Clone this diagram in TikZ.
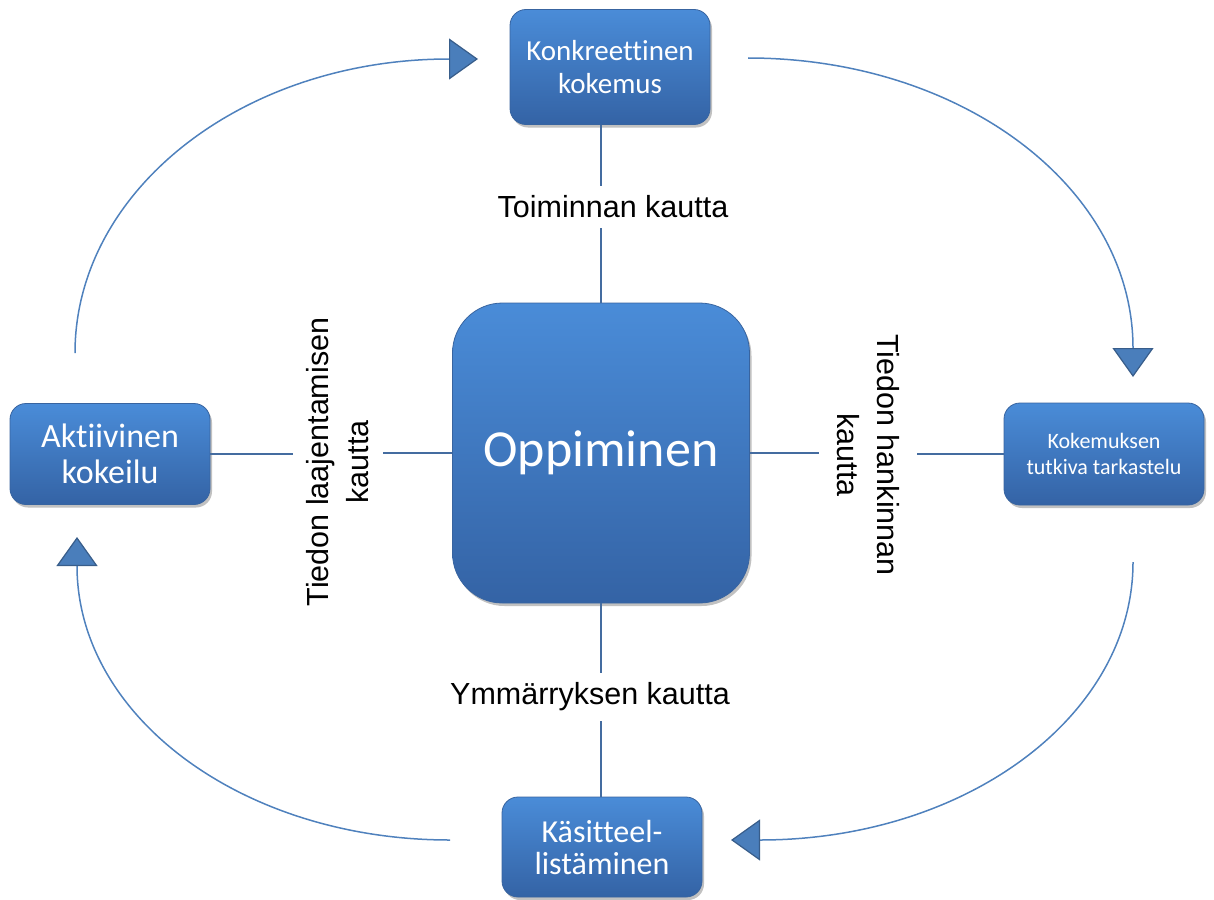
\documentclass[tikz,border=0pt]{standalone}
\usepackage{fontspec}
\setmainfont{Liberation Sans}
\newfontfamily\boxfont[Ligatures={NoCommon}]{Carlito}
\usetikzlibrary{arrows.meta,shadows}
\definecolor{boxtop}{RGB}{74,140,216}
\definecolor{boxbot}{RGB}{52,99,165}
\definecolor{boxedge}{RGB}{56,100,160}
\definecolor{linec}{RGB}{68,108,160}
\definecolor{arrowline}{RGB}{79,129,189}
\definecolor{arrowfill}{RGB}{74,126,187}
\definecolor{arrowedge}{RGB}{56,93,138}
\begin{document}
\begin{tikzpicture}[x=1pt,y=-1pt,
  box/.style={draw=boxedge, line width=0.8pt, top color=boxtop, bottom color=boxbot,
    rounded corners=16pt, text=white, align=center, inner sep=0pt,
    drop shadow={shadow xshift=2pt,shadow yshift=-3pt,opacity=0.35,fill=black!70}},
  lbl/.style={align=center, inner sep=10pt, text=black, font=\fontsize{30.5}{40}\selectfont},
  conn/.style={draw=linec, line width=2.5pt},
  cyc/.style={draw=arrowline, line width=1.5pt,
    -{Triangle[width=41pt,length=29pt,fill=arrowfill,color=arrowedge,line width=1.2pt]}}
]
\useasboundingbox (0,0) rectangle (1214,899);

% boxes
\node[box, minimum width=200pt, minimum height=115pt,
      font=\boxfont\fontsize{29}{33}\selectfont] (top) at (610,67) {Konkreettinen\\kokemus};
\node[box, minimum width=297pt, minimum height=300pt, rounded corners=50pt,
      font=\boxfont\fontsize{52}{60}\selectfont] (center) at (601,453) {Oppiminen};
\node[box, minimum width=200pt, minimum height=102pt,
      font=\boxfont\fontsize{22}{26}\selectfont] (right) at (1104,454) {Kokemuksen\\tutkiva tarkastelu};
\node[box, minimum width=200pt, minimum height=101pt,
      font=\boxfont\fontsize{34}{36}\selectfont] (left) at (110,454) {Aktiivinen\\kokeilu};
\node[box, minimum width=200pt, minimum height=100pt,
      font=\boxfont\fontsize{32}{32}\selectfont] (bottom) at (602,847) {Käsitteel-\\listäminen};

% labels
\node[lbl] (lblT) at (613,207) {Toiminnan kautta};
\node[lbl] (lblB) at (590,697) {Ymmärryksen kautta};
\node[lbl, rotate=90, inner sep=14pt] (lblL) at (338,462) {Tiedon laajentamisen\\kautta};
\node[lbl, rotate=-90, inner sep=18pt] (lblR) at (868,455) {Tiedon hankinnan\\kautta};

% connectors
\draw[conn] (center.north) -- (center.north |- lblT.south);
\draw[conn] (center.north |- lblT.north) -- (center.north |- top.south);
\draw[conn] (center.south) -- (center.south |- lblB.north);
\draw[conn] (center.south |- lblB.south) -- (center.south |- bottom.north);
\draw[conn] (left.east) -- (left.east -| lblL.north);
\draw[conn] (lblL.south |- center.west) -- (center.west);
\draw[conn] (center.east) -- (center.east -| lblR.south);
\draw[conn] (lblR.north |- right.west) -- (right.west);

% cycle arrows
\coordinate (tlS) at (75,353);
\coordinate (tlE) at (478,59);
\coordinate (trS) at (748,58);
\coordinate (trE) at (1133,377);
\coordinate (brS) at (1133,562);
\coordinate (brE) at (731,840);
\coordinate (blS) at (450,840);
\coordinate (blE) at (77,537);

\draw[cyc] (tlS) .. controls (75,191) and (242,59) .. (tlE);
\draw[cyc] (trS) .. controls (961,58) and (1133,187) .. (trE);
\draw[cyc] (brS) .. controls (1133,716) and (966,840) .. (brE);
\draw[cyc] (blS) .. controls (243,840) and (77,717) .. (blE);
\end{tikzpicture}
\end{document}
